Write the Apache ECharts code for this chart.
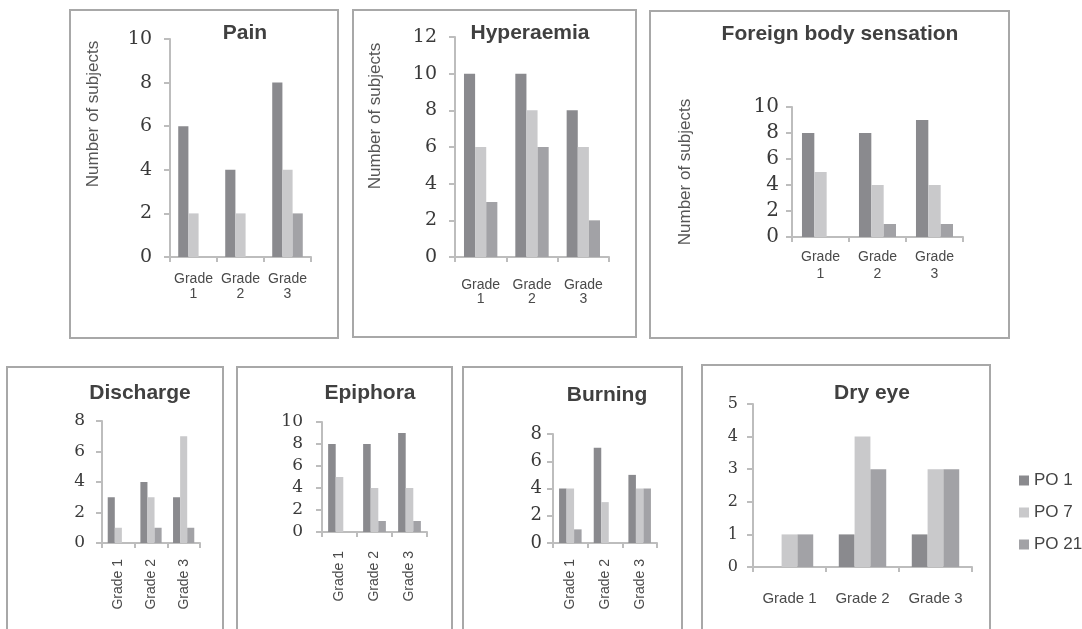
<!DOCTYPE html>
<html>
<head>
<meta charset="utf-8">
<script src="https://cdn.jsdelivr.net/npm/echarts@6/dist/echarts.min.js"></script>
<style>html,body{margin:0;padding:0;background:#fff}#c{width:1082px;height:629px}</style>
</head>
<body>
<div id="c"></div>
<script>
// ---- data ----
var categories = ['Grade 1', 'Grade 2', 'Grade 3'];
var seriesNames = ['PO 1', 'PO 7', 'PO 21'];
var panelTitles = ['Pain', 'Hyperaemia', 'Foreign body sensation', 'Discharge', 'Epiphora', 'Burning', 'Dry eye'];
var painPO1 = [6, 4, 8], painPO7 = [2, 2, 4], painPO21 = [0, 0, 2];
var hyperPO1 = [10, 10, 8], hyperPO7 = [6, 8, 6], hyperPO21 = [3, 6, 2];
var foreignPO1 = [8, 8, 9], foreignPO7 = [5, 4, 4], foreignPO21 = [0, 1, 1];
var dischargePO1 = [3, 4, 3], dischargePO7 = [1, 3, 7], dischargePO21 = [0, 1, 1];
var epiphoraPO1 = [8, 8, 9], epiphoraPO7 = [5, 4, 4], epiphoraPO21 = [0, 1, 1];
var burningPO1 = [4, 7, 5], burningPO7 = [4, 3, 4], burningPO21 = [1, 0, 4];
var dryPO1 = [0, 1, 1], dryPO7 = [1, 4, 3], dryPO21 = [1, 3, 3];
var yMax = [10, 12, 10, 8, 10, 8, 5];
var yStep = [2, 2, 2, 2, 2, 2, 1];

var panelData = [
  [painPO1, painPO7, painPO21],
  [hyperPO1, hyperPO7, hyperPO21],
  [foreignPO1, foreignPO7, foreignPO21],
  [dischargePO1, dischargePO7, dischargePO21],
  [epiphoraPO1, epiphoraPO7, epiphoraPO21],
  [burningPO1, burningPO7, burningPO21],
  [dryPO1, dryPO7, dryPO21]
];

// ---- layout / style ----
var colors = ['#8a8a8e', '#c9c9cb', '#a2a2a6'];
var axisColor = '#bdbdbd';
var grids = [
  {left: 170, top: 39, width: 141, height: 218},
  {left: 455, top: 37, width: 154, height: 220},
  {left: 792, top: 107, width: 171, height: 130},
  {left: 102, top: 421, width: 98, height: 122},
  {left: 322, top: 422, width: 105, height: 110},
  {left: 553, top: 434, width: 104, height: 109},
  {left: 753, top: 404, width: 219, height: 163}
];
var yFont = [19, 19, 20, 17, 17, 18, 16];
var yMargin = [18, 18, 13, 17, 19, 11, 15];
var xMode = ['two', 'two', 'two', 'rot', 'rot', 'rot', 'one'];
var xMargin = [15, 21, 12, 16, 19, 16, 24];
var xFont = [14, 14, 14, 14, 14, 14, 15];
var xLineH = [15, 14, 17, 14, 14, 14, 15];
var boxes = [
  [70, 10, 268, 328], [353, 10, 283, 327], [650, 11, 359, 327],
  [7, 367, 216, 300], [237, 367, 215, 300], [463, 367, 219, 300], [702, 365, 288, 300]
];
var titlePos = [[245, 33], [530, 33], [840, 34], [140, 393], [370, 393], [607, 395], [872, 393]];
var yNamePos = [[93, 114], [375, 116], [685, 172]];

var xAxes = [], yAxes = [], series = [], graphics = [];
for (var i = 0; i < 7; i++) {
  var mode = xMode[i];
  xAxes.push({
    type: 'category', gridIndex: i, data: categories,
    axisLine: {lineStyle: {color: axisColor, width: 2}},
    axisTick: {show: true, length: 5, lineStyle: {color: axisColor, width: 2}},
    axisLabel: {
      color: '#4a4a4a', fontFamily: 'Liberation Sans, Arial, sans-serif', fontSize: xFont[i],
      lineHeight: xLineH[i], margin: xMargin[i], interval: 0,
      rotate: mode === 'rot' ? 90 : 0,
      formatter: mode === 'two' ? function (v) { return v.replace(' ', '\n'); } : null
    }
  });
  yAxes.push({
    type: 'value', gridIndex: i, min: 0, max: yMax[i], interval: yStep[i],
    axisLine: {show: true, lineStyle: {color: axisColor, width: 2}},
    axisTick: {show: true, length: 6, lineStyle: {color: axisColor, width: 2}},
    splitLine: {show: false},
    axisLabel: {color: '#3a3a3a', fontFamily: 'DejaVu Serif, Liberation Serif, serif', fontSize: yFont[i], margin: yMargin[i]}
  });
  for (var s = 0; s < 3; s++) {
    series.push({
      type: 'bar', name: seriesNames[s], xAxisIndex: i, yAxisIndex: i,
      data: panelData[i][s], barGap: '0%', barCategoryGap: '35%',
      itemStyle: {color: colors[s]}, silent: true
    });
  }
  var b = boxes[i];
  graphics.push({type: 'rect', z: -10, shape: {x: b[0], y: b[1], width: b[2], height: b[3]},
    style: {fill: '#fff', stroke: '#a8a8a8', lineWidth: 2}});
  graphics.push({type: 'text', x: titlePos[i][0], y: titlePos[i][1],
    style: {text: panelTitles[i], fill: '#404040', font: 'bold 21px "Liberation Sans", Arial, sans-serif',
      textAlign: 'center', textVerticalAlign: 'middle'}});
}
for (var k = 0; k < yNamePos.length; k++) {
  graphics.push({type: 'text', x: yNamePos[k][0], y: yNamePos[k][1], rotation: Math.PI / 2,
    style: {text: 'Number of subjects', fill: '#555', font: '17px "Liberation Sans", Arial, sans-serif',
      textAlign: 'center', textVerticalAlign: 'middle'}});
}

var chart = echarts.init(document.getElementById('c'), null, {renderer: 'canvas'});
chart.setOption({
  animation: false,
  backgroundColor: '#fff',
  grid: grids,
  xAxis: xAxes,
  yAxis: yAxes,
  series: series,
  graphic: graphics,
  legend: {
    data: seriesNames, orient: 'vertical', left: 1014, top: 467,
    itemWidth: 10, itemHeight: 10, itemGap: 15, icon: 'rect',
    textStyle: {color: '#444', fontSize: 17, fontFamily: 'Liberation Sans, Arial, sans-serif'},
    selectedMode: false
  }
});
</script>
</body>
</html>
